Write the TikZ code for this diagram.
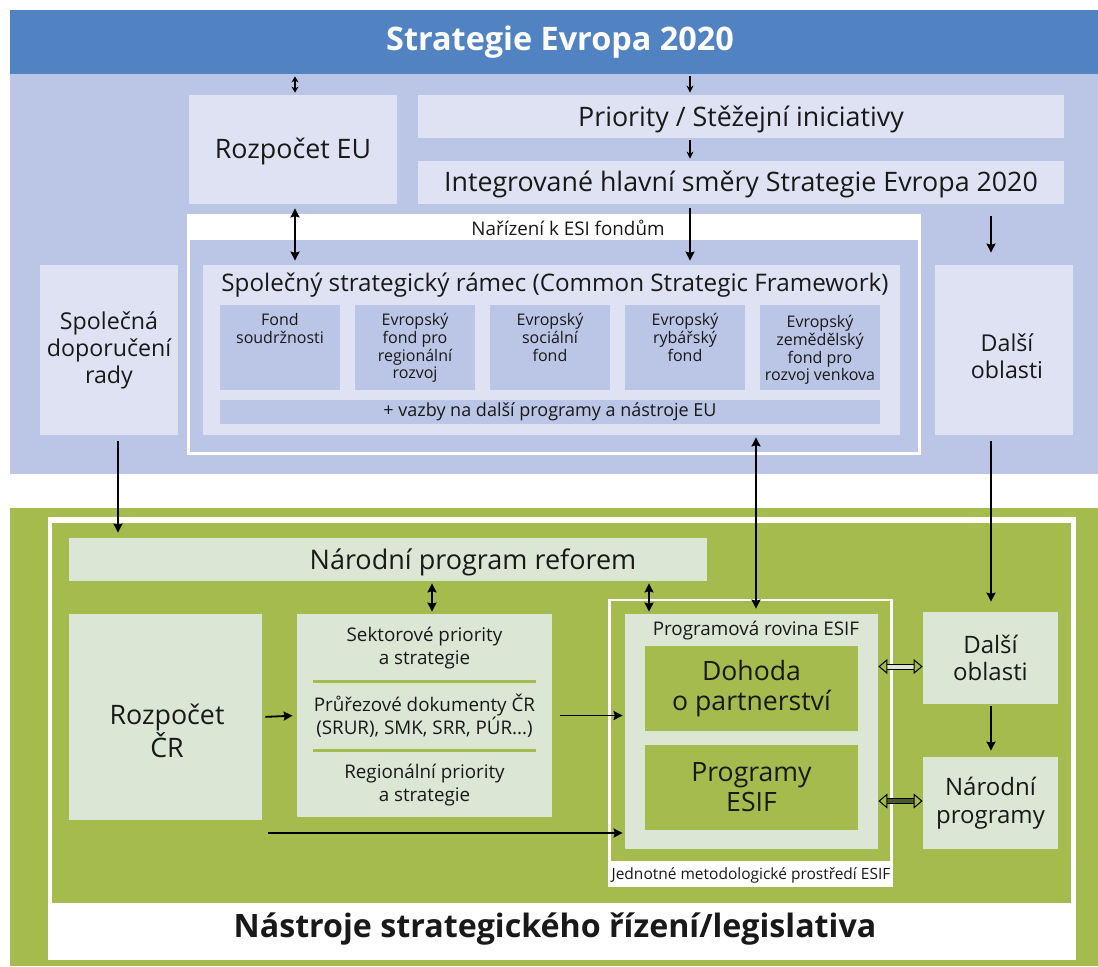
\documentclass[tikz,border=0pt]{standalone}
\usepackage{fontspec}
\setmainfont{Open Sans}
\usetikzlibrary{arrows.meta}
\definecolor{hdrblue}{HTML}{5183C2}
\definecolor{eublue}{HTML}{BBC5E6}
\definecolor{eulight}{HTML}{DFE2F3}
\definecolor{czgreen}{HTML}{A5BB4E}
\definecolor{czlight}{HTML}{DCE6D4}
\definecolor{olive}{HTML}{4B5A2A}
\tikzstyle{box}=[shape=rectangle,
                inner sep=0pt,
                align=center,
                text=black!90]
\tikzstyle{eubox}=[box, fill=eulight]
\tikzstyle{fund}=[box, fill=eublue, minimum width=60pt, minimum height=42.5pt]
\tikzstyle{fundtxt}=[box, anchor=north, inner sep=0pt,
                font=\fontsize{8}{8.85}\selectfont]
\tikzstyle{czbox}=[box, fill=czlight]
\tikzstyle{esif}=[box, fill=czgreen, minimum width=106.5pt, minimum height=42.5pt,
                font=\fontsize{13.3}{14.8}\selectfont]
\tikzstyle{link}=[->, line width=0.9pt, shorten >=1pt, shorten <=1pt]
\tikzstyle{twin}=[line width=0.5pt, double distance=2pt,
                {Triangle[open,length=4.5pt,width=7.5pt]}-{Triangle[open,length=4.5pt,width=7.5pt]}]

\begin{document}
\begin{tikzpicture}[>={Stealth[length=4.5pt,width=4.5pt,inset=0.6pt]}, x=0.5pt, y=-0.5pt]
\useasboundingbox (0,0) rectangle (1098,966);

% EU level
\fill[eublue] (10,74) rectangle (1098,474);
\node[box, fill=hdrblue, minimum width=544pt, minimum height=32pt] (hdr) at (554,42) {};
\node[box, text=white, font=\fontsize{16.2}{18}\selectfont\bfseries] (hdrt) at (560,42) {Strategie Evropa 2020};
\node[eubox, minimum width=104pt, minimum height=54.5pt] (reu) at (293,149.5) {};
\node[box, font=\fontsize{13.4}{15}\selectfont] (reut) at (293,151) {Rozpočet EU};
\node[eubox, minimum width=323pt, minimum height=21.5pt] (prio) at (741,116.5) {};
\node[box, font=\fontsize{13.4}{15}\selectfont] (priot) at (741,119) {Priority / Stěžejní iniciativy};
\node[eubox, minimum width=323pt, minimum height=21.5pt] (integ) at (741,182.5) {};
\node[box, font=\fontsize{13.4}{15}\selectfont] (integt) at (741,184) {Integrované hlavní směry Strategie Evropa 2020};

% regulation frame
\fill[white] (187,214) rectangle (921,455);
\fill[eublue] (190,240) rectangle (918,452);
\node[box, font=\fontsize{9.4}{11}\selectfont] (nar) at (568,228) {Nařízení k ESI fondům};
\node[eubox, minimum width=348.5pt, minimum height=85pt] (ssr) at (551.5,350) {};
\node[box, font=\fontsize{12.1}{14}\selectfont] (ssrt) at (555,285) {Společný strategický rámec (Common Strategic Framework)};
\node[fund] (f1) at (280,347.5) {};
\node[fund] (f2) at (415,347.5) {};
\node[fund] (f3) at (550,347.5) {};
\node[fund] (f4) at (685,347.5) {};
\node[fund] (f5) at (820,347.5) {};
\node[fundtxt] (f1t) at (280,313) {Fond\\soudržnosti};
\node[fundtxt] (f2t) at (415,313) {Evropský\\fond pro\\regionální\\rozvoj};
\node[fundtxt] (f3t) at (550,313) {Evropský\\sociální\\fond};
\node[fundtxt] (f4t) at (685,313) {Evropský\\rybářský\\fond};
\node[fundtxt] (f5t) at (820,315) {Evropský\\zemědělský\\fond pro\\rozvoj venkova};
\node[box, fill=eublue, minimum width=330pt, minimum height=12pt, font=\fontsize{9}{10}\selectfont] (vaz) at (550,412) {+ vazby na další programy a nástroje EU};

\node[eubox, minimum width=69pt, minimum height=85pt, font=\fontsize{11.6}{13.5}\selectfont] (spol) at (109,350) {Společná\\doporučení\\rady};
\node[eubox, minimum width=69pt, minimum height=85pt] (dal1) at (1004,350) {};
\node[box, font=\fontsize{11.6}{13.5}\selectfont] (dal1t) at (1007,356) {Další\\oblasti};

% national level
\fill[czgreen] (10,508) rectangle (1098,966);
\fill[white] (48,517) rectangle (1076,960);
\fill[czgreen] (52,523) rectangle (1071,903);
\node[box, font=\fontsize{16.1}{18}\selectfont\bfseries] (nast) at (555,929) {Nástroje strategického řízení/legislativa};

\node[czbox, minimum width=319pt, minimum height=21.5pt] (npr) at (388,559.5) {};
\node[box, font=\fontsize{13.5}{15}\selectfont] (nprt) at (473,562) {Národní program reforem};
\node[czbox, minimum width=96.5pt, minimum height=103pt] (rcr) at (165.5,717) {};
\node[box, font=\fontsize{13.4}{14.5}\selectfont] (rcrt) at (167,731) {Rozpočet\\ČR};
\node[czbox, minimum width=127.5pt, minimum height=101.5pt] (sect) at (424.5,715.5) {};
\node[box, font=\fontsize{9.4}{11.5}\selectfont] (sect1) at (424.5,648) {Sektorové priority\\a strategie};
\node[box, font=\fontsize{9.4}{11.5}\selectfont] (sect2) at (424.5,716) {Průřezové dokumenty ČR\\(SRUR), SMK, SRR, PÚR...)};
\node[box, font=\fontsize{9.4}{11.5}\selectfont] (sect3) at (424.5,785) {Regionální priority\\a strategie};
\draw[czgreen, line width=1.5pt] (313,681) -- (536,681);
\draw[czgreen, line width=1.5pt] (313,750) -- (536,750);

% ESIF frame
\fill[white] (608,599) rectangle (893,887);
\fill[czgreen] (611,601) rectangle (890,861);
\node[box, font=\fontsize{7.75}{9}\selectfont] (jmp) at (751,875) {Jednotné metodologické prostředí ESIF};
\node[czbox, minimum width=126.5pt, minimum height=117.5pt] (prog) at (751.5,731.5) {};
\node[box, font=\fontsize{9.4}{11}\selectfont] (progt) at (756,631) {Programová rovina ESIF};
\node[esif] (doh) at (751.5,688.5) {Dohoda\\o partnerství};
\node[esif] (pesif) at (751.5,787) {Programy\\ESIF};
\node[czbox, minimum width=67.5pt, minimum height=46pt, font=\fontsize{12}{13.5}\selectfont] (dal2) at (990.5,658) {Další\\oblasti};
\node[czbox, minimum width=67.5pt, minimum height=46pt, font=\fontsize{12}{14}\selectfont] (narp) at (990.5,803) {Národní\\programy};

% guide columns for arrows
\coordinate (c1) at (295,0);
\coordinate (c2) at (690,0);
\coordinate (c3) at (991,0);
\coordinate (c4) at (118,0);
\coordinate (c5) at (756,0);
\coordinate (c6) at (432,0);
\coordinate (c7) at (649,0);
\coordinate (r1) at (0,833);

% paths
\draw[link, {Stealth[length=3pt,width=3.5pt]}-{Stealth[length=3pt,width=3.5pt]}] (hdr.south -| c1) -- (reu.north -| c1);
\draw[link, -{Stealth[length=3.5pt,width=3.5pt]}] (hdr.south -| c2) -- (prio.north -| c2);
\draw[link, -{Stealth[length=3.5pt,width=3.5pt]}] (prio.south -| c2) -- (integ.north -| c2);
\draw[link, <->, shorten >=2pt, shorten <=2pt] (reu.south -| c1) -- (ssr.north -| c1);
\draw[link, shorten >=2pt, shorten <=2pt] (integ.south -| c2) -- (ssr.north -| c2);
\draw[link, shorten >=6pt, shorten <=6pt] (integ.south -| c3) -- (dal1.north -| c3);
\draw[link, shorten >=2.5pt, shorten <=3pt] (spol.south -| c4) -- (npr.north -| c4);
\draw[link, <->, shorten >=2.5pt] (ssr.south -| c5) -- (prog.north -| c5);
\draw[link, shorten >=5pt, shorten <=3pt] (dal1.south -| c3) -- (dal2.north -| c3);
\draw[link, <->] (npr.south -| c6) -- (sect.north -| c6);
\draw[link, <->] (npr.south -| c7) -- (prog.north -| c7);
\draw[link, shorten >=2pt, shorten <=1.5pt] (rcr.east) -- (sect.west);
\draw[link, shorten >=1pt, shorten <=4pt] (sect.east) -- (prog.west |- sect.east);
\draw[link, shorten >=1pt, shorten <=3pt] (rcr.east |- r1) -- (prog.west |- r1);
\draw[link, shorten >=3pt] (dal2.south -| c3) -- (narp.north -| c3);
\draw[twin, draw=black, double=czlight] (prog.east |- doh.east) ++(0,-22) coordinate (t1) -- (dal2.west |- t1);
\draw[twin, draw=black, double=olive] (prog.east |- pesif.east) ++(0,14) coordinate (t2) -- (dal2.west |- t2);

\end{tikzpicture}
\end{document}
